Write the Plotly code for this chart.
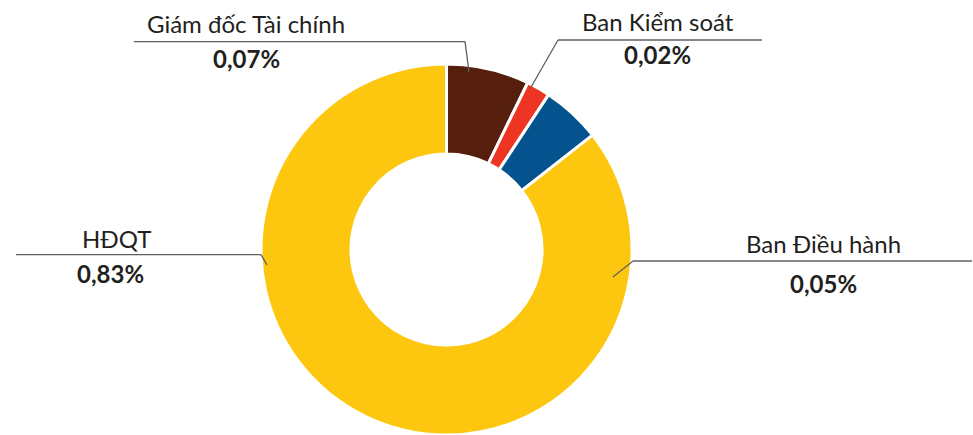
import plotly.graph_objects as go

# data
groups = ["Giám đốc Tài chính", "Ban Kiểm soát", "Ban Điều hành", "HĐQT"]
shares = [0.07, 0.02, 0.05, 0.83]
share_labels = ["0,07%", "0,02%", "0,05%", "0,83%"]
colors = ["#561E0C", "#EE3524", "#04538F", "#FDC70F"]

W, H = 973, 435

def fx(x):
    return x / W

def fy(y):
    return 1 - y / H

fig = go.Figure()
fig.add_trace(go.Pie(
    labels=groups,
    values=shares,
    hole=0.515,
    sort=False,
    direction="clockwise",
    rotation=0,
    textinfo="none",
    hoverinfo="label+percent",
    marker=dict(colors=colors, line=dict(color="white", width=3)),
    domain=dict(x=[fx(261), fx(632)], y=[fy(435), fy(64)]),
    showlegend=False,
))

# label positions (pixel centres), leader lines: [start, elbow, end]
label_pos = [(246, 23.5), (658, 21.5), (823, 243.5), (116, 238.5)]
value_pos = [(246, 58.5), (657, 55), (823, 283.5), (110, 273.5)]
leaders = [
    [(134, 41.7), (465, 41.7), (469, 72)],
    [(762, 40), (558, 40), (530, 89)],
    [(972, 261), (633, 261), (613, 277)],
    [(16, 254.7), (261, 254.7), (267, 265)],
]

for name, val, lp, vp, pts in zip(groups, share_labels, label_pos, value_pos, leaders):
    fig.add_annotation(x=fx(lp[0]), y=fy(lp[1]), xref="paper", yref="paper",
                       text=name, showarrow=False, xanchor="center", yanchor="middle",
                       font=dict(size=24, color="#231F20", family="Lato"))
    fig.add_annotation(x=fx(vp[0]), y=fy(vp[1]), xref="paper", yref="paper",
                       text="<b>" + val + "</b>", showarrow=False, xanchor="center", yanchor="middle",
                       font=dict(size=24, color="#231F20", family="Lato"))
    for a, b in zip(pts[:-1], pts[1:]):
        fig.add_shape(type="line", xref="paper", yref="paper",
                      x0=fx(a[0]), y0=fy(a[1]), x1=fx(b[0]), y1=fy(b[1]),
                      line=dict(color="#5F6062", width=1.3))

fig.update_layout(
    width=W, height=H,
    margin=dict(l=0, r=0, t=0, b=0),
    paper_bgcolor="white",
    plot_bgcolor="white",
)

fig.write_html("out.html", config={"displayModeBar": False},
               post_script="document.body.style.margin='0px';")
